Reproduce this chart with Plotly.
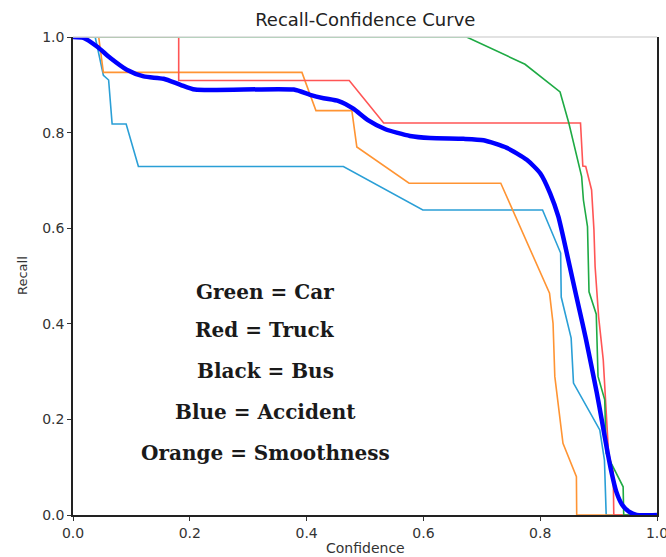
import plotly.graph_objects as go

# Recall vs confidence for each class (x = confidence, y = recall)
car_conf = [0.0, 0.674, 0.774, 0.834, 0.849, 0.871, 0.874, 0.881, 0.8836, 0.896, 0.899,
            0.9105, 0.913, 0.925, 0.942, 0.943, 1.0]
car_recall = [1.0, 1.0, 0.943, 0.885, 0.82, 0.708, 0.659, 0.6035, 0.467, 0.42, 0.29,
              0.241, 0.129, 0.101, 0.059, 0.0, 0.0]

truck_conf = [0.0, 0.181, 0.181, 0.473, 0.532, 0.869, 0.873, 0.878, 0.888, 0.892, 0.894,
              0.9, 0.908, 0.91, 0.917, 0.925, 0.926, 1.0]
truck_recall = [1.0, 1.0, 0.909, 0.909, 0.82, 0.82, 0.73, 0.729, 0.68, 0.597, 0.52,
                0.415, 0.324, 0.283, 0.13, 0.09, 0.0, 0.0]

accident_conf = [0.0, 0.038, 0.052, 0.061, 0.067, 0.091, 0.112, 0.463, 0.599, 0.804, 0.835,
                 0.836, 0.853, 0.857, 0.902, 0.910, 0.913, 1.0]
accident_recall = [1.0, 1.0, 0.92, 0.91, 0.818, 0.818, 0.729, 0.729, 0.638, 0.638, 0.548,
                   0.456, 0.37, 0.276, 0.178, 0.115, 0.0, 0.0]

smooth_conf = [0.0, 0.044, 0.052, 0.392, 0.416, 0.4775, 0.486, 0.5755, 0.7325, 0.805, 0.816,
               0.822, 0.825, 0.839, 0.862, 0.8625, 1.0]
smooth_recall = [1.0, 1.0, 0.926, 0.926, 0.846, 0.846, 0.77, 0.694, 0.694, 0.492, 0.464,
                 0.401, 0.29, 0.15, 0.08, 0.0, 0.0]

all_conf = [0.0, 0.018, 0.041, 0.064, 0.092, 0.121, 0.155, 0.184, 0.209, 0.378, 0.406,
            0.429, 0.455, 0.48, 0.505, 0.535, 0.577, 0.6115, 0.6685, 0.703, 0.743,
            0.777, 0.80, 0.817, 0.831, 0.8455, 0.856, 0.867, 0.878, 0.888, 0.897,
            0.906, 0.914, 0.922, 0.93, 0.94, 0.952, 0.965, 1.0]
all_recall = [1.0, 0.998, 0.98, 0.956, 0.9315, 0.9175, 0.9127, 0.9, 0.89, 0.89, 0.879,
              0.872, 0.866, 0.85, 0.826, 0.807, 0.793, 0.7886, 0.787, 0.784, 0.768,
              0.743, 0.715, 0.673, 0.6245, 0.548, 0.49, 0.43, 0.37, 0.31, 0.255,
              0.195, 0.14, 0.09, 0.05, 0.022, 0.007, 0.0, 0.0]

legend_lines = ["Green = Car", "Red = Truck", "Black = Bus", "Blue = Accident",
                "Orange = Smoothness"]
legend_y = [0.467, 0.387, 0.301, 0.216, 0.130]

x_ticks = [0.0, 0.2, 0.4, 0.6, 0.8, 1.0]
y_ticks = [0.0, 0.2, 0.4, 0.6, 0.8, 1.0]

fig = go.Figure()

series = [
    (accident_conf, accident_recall, "#2a9fd6", 1.6, "linear"),
    (smooth_conf, smooth_recall, "#ff9433", 1.6, "linear"),
    (truck_conf, truck_recall, "#ff5555", 1.6, "linear"),
    (car_conf, car_recall, "#1eaa44", 1.6, "linear"),
    (all_conf, all_recall, "#0000ff", 4.5, "spline"),
]
for xs, ys, color, width, shape in series:
    line = dict(color=color, width=width, shape=shape)
    if shape == "spline":
        line["smoothing"] = 0.6
    fig.add_trace(go.Scatter(x=xs, y=ys, mode="lines", line=line,
                             showlegend=False, hoverinfo="skip"))

for text, yv in zip(legend_lines, legend_y):
    fig.add_annotation(x=0.329, y=yv, xref="x", yref="y", text=f"<b>{text}</b>",
                       showarrow=False, xanchor="center", yanchor="middle",
                       font=dict(family="DejaVu Serif", size=20, color="#1a1a1a"))

axis_font = dict(family="DejaVu Sans", size=14, color="#333333")

fig.add_annotation(x=0.5, y=0, xref="paper", yref="paper", text="Confidence",
                   showarrow=False, xanchor="center", yanchor="middle", yshift=-33,
                   font=axis_font)
fig.add_annotation(x=0, y=0.5, xref="paper", yref="paper", text="Recall",
                   showarrow=False, xanchor="center", yanchor="middle", xshift=-51,
                   textangle=-90, font=dict(family="DejaVu Sans", size=13, color="#333333"))

# light top border of the axes box
fig.add_shape(type="line", xref="paper", yref="paper", x0=0, x1=1, y0=1, y1=1,
              line=dict(color="#d8d8d8", width=1.5))

fig.update_layout(
    width=666, height=557,
    margin=dict(l=73, r=9, t=37, b=42, autoexpand=False),
    paper_bgcolor="white", plot_bgcolor="white",
    title=dict(text="Recall-Confidence Curve", x=0.5485, xref="container",
               y=1 - 20 / 557, yref="container", xanchor="center", yanchor="middle",
               font=dict(family="DejaVu Sans", size=18, color="#222222")),
    xaxis=dict(range=[0, 1], tickvals=x_ticks, tickformat=".1f", showgrid=False,
               zeroline=False, showline=True, linecolor="#222222", linewidth=1.5,
               ticks="outside", ticklen=4, tickcolor="#333333", tickfont=axis_font,
               ticklabeloverflow="allow", automargin=False),
    yaxis=dict(range=[0, 1], tickvals=y_ticks, tickformat=".1f", showgrid=False,
               zeroline=False, showline=True, linecolor="#222222", linewidth=1.5,
               mirror=True, ticks="outside", ticklen=4, tickcolor="#333333",
               tickfont=axis_font, automargin=False),
)

fig.write_html("out.html")
